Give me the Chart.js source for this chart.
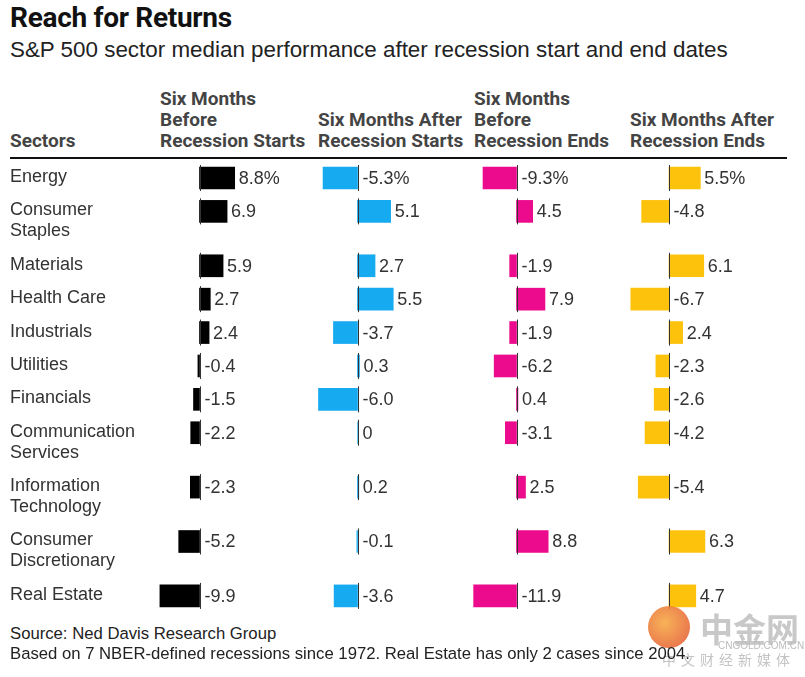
<!DOCTYPE html>
<html>
<head>
<meta charset="utf-8">
<script src="https://cdn.jsdelivr.net/npm/chart.js@4.4.1/dist/chart.umd.min.js"></script>
<style>
  body { margin: 0; background: #fff; width: 805px; height: 677px; overflow: hidden; position: relative;
         font-family: "Liberation Sans", Arial, sans-serif; color: #222; }
  .t { position: absolute; white-space: nowrap; }
  #title { left: 10px; top: 1px; font: 700 28px Roboto, sans-serif; color: #111; letter-spacing: -0.3px; }
  #subtitle { left: 10px; top: 37px; font-size: 22.4px; color: #222; }
  .head { font: 700 19px Roboto, sans-serif; color: #444; line-height: 21px; }
  #rule { position: absolute; left: 10px; top: 157px; width: 777px; height: 2px; background: #111; }
  #chart { position: absolute; left: 0; top: 160px; }
  .foot { left: 10px; font-size: 16.7px; color: #222; }
  #wm { position: absolute; left: 648px; top: 606px; width: 42px; height: 42px; border-radius: 50%;
        background: radial-gradient(circle at 40% 40%, #f7a53a, #e0492a); opacity: 0.85; }
  #wm1 { left: 700px; top: 604px; font: 700 33px "Noto Sans CJK SC", sans-serif; color: #c8c8c8; }
  #wm2 { left: 718px; top: 640px; font-size: 10px; color: #bbb; }
  #wm3 { left: 662px; top: 649px; font: 14px "Noto Sans CJK SC", sans-serif; color: #c4c4c4; letter-spacing: 5px; }
</style>
</head>
<body>
<div class="t" id="title">Reach for Returns</div>
<div class="t" id="subtitle">S&amp;P 500 sector median performance after recession start and end dates</div>
<div class="t head" style="left:10px;top:130px">Sectors</div>
<div class="t head" style="left:160px;top:88px">Six Months<br>Before<br>Recession Starts</div>
<div class="t head" style="left:318px;top:109px">Six Months After<br>Recession Starts</div>
<div class="t head" style="left:474px;top:88px">Six Months<br>Before<br>Recession Ends</div>
<div class="t head" style="left:630px;top:109px">Six Months After<br>Recession Ends</div>
<div id="rule"></div>
<canvas id="chart" width="805" height="460"></canvas>
<div id="wm"></div>
<div class="t" id="wm1">中金网</div>
<div class="t" id="wm2">CNGOLD.COM.CN</div>
<div class="t" id="wm3">中文财经新媒体</div>
<div class="t foot" style="top:624px">Source: Ned Davis Research Group</div>
<div class="t foot" style="top:644px">Based on 7 NBER-defined recessions since 1972. Real Estate has only 2 cases since 2004.</div>
<script>
const sectors = [
    ["Energy"],
    ["Consumer", "Staples"],
    ["Materials"],
    ["Health Care"],
    ["Industrials"],
    ["Utilities"],
    ["Financials"],
    ["Communication", "Services"],
    ["Information", "Technology"],
    ["Consumer", "Discretionary"],
    ["Real Estate"],
];
const beforeStart = [8.8, 6.9, 5.9, 2.7, 2.4, -0.4, -1.5, -2.2, -2.3, -5.2, -9.9];
const afterStart = [-5.3, 5.1, 2.7, 5.5, -3.7, 0.3, -6.0, 0, 0.2, -0.1, -3.6];
const beforeEnd = [-9.3, 4.5, -1.9, 7.9, -1.9, -6.2, 0.4, -3.1, 2.5, 8.8, -11.9];
const afterEnd = [5.5, -4.8, 6.1, -6.7, 2.4, -2.3, -2.6, -4.2, -5.4, 6.3, 4.7];

// row spacing: each extra label line adds one line height (21px)
const lineH = 21;
const rowGap = 1.59;
const rowPos = [];
let acc = 0;
sectors.forEach((s) => {
    rowPos.push(acc);
    acc += rowGap + (s.length - 1);
});

// column layout: where zero sits (px) and px per percentage point
const W = 805, H = 460, firstRowPx = 18;
function colAxis(zeroPx, ppu) {
    return { display: false, offset: false, min: -zeroPx / ppu, max: (W - zeroPx) / ppu };
}
function pts(values) {
    return values.map((v, i) => ({ x: v, y: rowPos[i] }));
}
function fmt(v, i) {
    const s = v === 0 ? "0" : v.toFixed(1);
    return i === 0 ? s + "%" : s;
}

const rowDecor = {
    id: "rowDecor",
    afterDatasetsDraw(chart) {
        const ctx = chart.ctx;
        const yScale = chart.scales.y;
        ctx.save();
        ctx.font = '18px "Liberation Sans", Arial, sans-serif';
        ctx.fillStyle = "#333";
        ctx.textBaseline = "middle";
        sectors.forEach((lines, i) => {
            const y = yScale.getPixelForValue(rowPos[i]);
            lines.forEach((line, k) => ctx.fillText(line, 10, y - 1 + k * lineH));
        });
        chart.data.datasets.forEach((ds) => {
            const xs = chart.scales[ds.xAxisID];
            const x0 = Math.round(xs.getPixelForValue(0)) + 0.5;
            ds.data.forEach((pt, i) => {
                const y = yScale.getPixelForValue(pt.y);
                ctx.strokeStyle = "#333";
                ctx.lineWidth = 1;
                ctx.beginPath();
                ctx.moveTo(x0, y - 13);
                ctx.lineTo(x0, y + 13);
                ctx.stroke();
                const xEnd = Math.max(x0, xs.getPixelForValue(pt.x));
                ctx.fillText(fmt(pt.x, i), xEnd + 4, y + 1);
            });
        });
        ctx.restore();
    },
};

const barOpts = { barThickness: 22, grouped: false, borderWidth: 0 };
const chart = new Chart(document.getElementById("chart"), {
    type: "bar",
    data: {
        datasets: [
            { ...barOpts, label: "Six Months Before Recession Starts", data: pts(beforeStart), backgroundColor: "#000000", xAxisID: "x0" },
            { ...barOpts, label: "Six Months After Recession Starts", data: pts(afterStart), backgroundColor: "#16aaf0", xAxisID: "x1" },
            { ...barOpts, label: "Six Months Before Recession Ends", data: pts(beforeEnd), backgroundColor: "#ec0b8c", xAxisID: "x2" },
            { ...barOpts, label: "Six Months After Recession Ends", data: pts(afterEnd), backgroundColor: "#fdc20c", xAxisID: "x3" },
        ],
    },
    options: {
        indexAxis: "y",
        responsive: false,
        animation: false,
        layout: { padding: 0 },
        scales: {
            y: { type: "linear", display: false, reverse: true, offset: false,
                 min: -firstRowPx / lineH, max: (H - firstRowPx) / lineH },
            x0: colAxis(199.5, 4.0),
            x1: colAxis(357.5, 6.5),
            x2: colAxis(516.5, 3.6),
            x3: colAxis(669, 5.7),
        },
        plugins: {
            legend: { display: false },
            tooltip: { enabled: false },
        },
    },
    plugins: [rowDecor],
});
</script>
</body>
</html>
